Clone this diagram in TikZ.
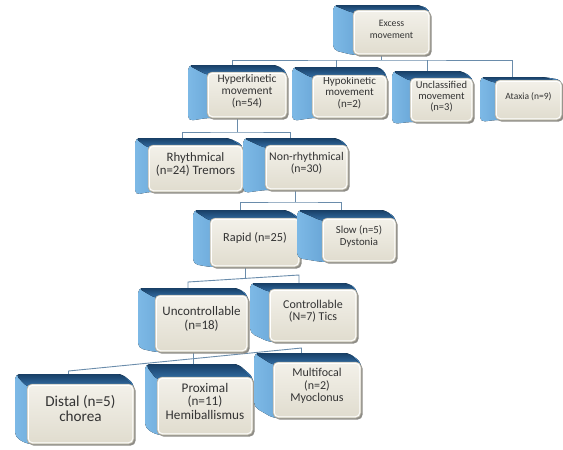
\documentclass[tikz,border=0pt]{standalone}
\usepackage{fontspec}
\setmainfont{Carlito}
\usetikzlibrary{calc,fit}
\definecolor{topdark}{HTML}{183F66}
\definecolor{topmid}{HTML}{3470A8}
\definecolor{sidelight}{HTML}{7DB9E6}
\definecolor{sidemid}{HTML}{3473AE}
\definecolor{boxtop}{HTML}{F3F1EA}
\definecolor{boxbot}{HTML}{E0DCCE}
\definecolor{boxline}{HTML}{A8A59A}
\definecolor{connc}{HTML}{6A8CAB}
\definecolor{txtc}{HTML}{333333}
\definecolor{shadowc}{HTML}{8E8C86}
\pgfdeclarelayer{bg}
\pgfsetlayers{bg,main}
\tikzset{
  frontbox/.style={draw=boxline, line width=0.5pt, top color=boxtop, bottom color=boxbot,
    rounded corners=5pt, inner sep=0pt, text=txtc, align=center},
  sideface/.style={left color=sidelight, right color=sidemid, rounded corners=5pt},
  topface/.style={top color=topdark, bottom color=topmid, rounded corners=5pt},
  connector/.style={draw=connc, line width=0.9pt},
}
\newcommand\blk[8]{%
  \coordinate (#1-fnw) at #2;
  \coordinate (#1-fse) at #3;
  \coordinate (#1-bnw) at #4;
  \coordinate (#1-bse) at #5;
  \node[fit={#4 #5}, inner sep=0pt] (#1-b) {};
  \fill[sideface] (#1-bnw) -- (#1-bse |- #1-bnw) -- (#1-fse |- #1-fnw) -- (#1-fse)
     -- (#1-fnw |- #1-fse) -- (#1-bnw |- #1-bse) -- cycle;
  \fill[topface] (#1-bnw) -- (#1-bse |- #1-bnw) -- ($(#1-fse |- #1-fnw)+(0,3)$)
     -- ($(#1-fnw)+(0,3)$) -- cycle;
  \fill[shadowc, rounded corners=5pt] ($#2+(1.6,1.6)$) rectangle ($#3+(1.6,1.6)$);
  \node[frontbox, fit={#2 #3}, font=\fontsize{#6}{#7}\selectfont] (#1) {#8};
  \draw[white, line width=0.8pt, rounded corners=4pt] ($(#1.north west)+(1.6,1.6)$) rectangle ($(#1.south east)+(-1.6,-1.6)$);
}
\begin{document}
\begin{tikzpicture}[x=1pt,y=-1pt]
\useasboundingbox (0,0) rectangle (563,450);
\begin{pgfonlayer}{bg}
\fill[white] (0,0) rectangle (563,450);
\end{pgfonlayer}

\blk{excess}{(353,10)}{(430,55)}{(333,5)}{(420,50)}{9.8}{11.5}{Excess\\movement}
\blk{hyper}{(207,72)}{(287,118)}{(188,65)}{(277,121)}{11.5}{12}{Hyperkinetic\\movement\\(n=54)}
\blk{hypo}{(312,75)}{(387,118)}{(292,67)}{(380,121)}{11}{11.5}{Hypokinetic\\movement\\(n=2)}
\blk{uncl}{(410,78)}{(473,122)}{(392,71)}{(462,124)}{10.5}{11}{Unclassified\\movement\\(n=3)}
\blk{ataxia}{(495,80)}{(562,120)}{(480,77)}{(544,122)}{9.5}{10}{Ataxia (n=9)}
\blk{rhyth}{(148,145)}{(243,192)}{(135,138)}{(229,195)}{12.8}{13}{Rhythmical\\(n=24) Tremors}
\blk{nonrh}{(265,145)}{(348,190)}{(243,138)}{(337,193)}{11.8}{12.5}{Non-rhythmical\\(n=30)}
\blk{rapid}{(210,218)}{(300,267)}{(193,210)}{(287,264)}{12.3}{13}{Rapid (n=25)}
\blk{slow}{(322,218)}{(396,262)}{(297,210)}{(385,258)}{10.8}{12}{Slow (n=5)\\Dystonia}
\blk{unc}{(155,295)}{(248,352)}{(138,288)}{(238,348)}{13}{13.5}{Uncontrollable\\(n=18)}
\blk{contr}{(269,289)}{(357,342)}{(250,283)}{(348,333)}{12}{12.5}{Controllable\\(N=7) Tics}
\blk{distal}{(27,384)}{(134,444)}{(15,374)}{(122,437)}{15.2}{15.5}{Distal (n=5)\\chorea}
\blk{prox}{(157,377)}{(253,435)}{(145,364)}{(238,428)}{13.2}{13.5}{Proximal\\(n=11)\\Hemiballismus}
\blk{multi}{(273,362)}{(361,418)}{(254,353)}{(349,407)}{12}{12.5}{Multifocal\\(n=2)\\Myoclonus}

\begin{pgfonlayer}{bg}
% level 1 -> 2
\coordinate (bus1) at (381.5,60);
\draw[connector] ($(excess-b.north |- excess.south)+(5,0)$) -- (bus1);
\draw[connector] (hyper-b.north) |- (bus1) -| (ataxia-b.north);
\draw[connector] (hypo-b.north) -- (hypo-b.north |- bus1);
\draw[connector] (uncl-b.north) -- (uncl-b.north |- bus1);
% level 2 -> 3
\coordinate (bus2) at (237.5,132);
\draw[connector] ($(hyper-b.north |- hyper.south)+(5,0)$) -- (bus2);
\draw[connector] (rhyth-b.north) |- (bus2) -| (nonrh-b.north);
% level 3 -> 4
\coordinate (bus3) at (295,202);
\draw[connector] ($(nonrh-b.north |- nonrh.south)+(5,0)$) -- (bus3);
\draw[connector] (rapid-b.north) |- (bus3) -| (slow-b.north);
% level 4 -> 5
\coordinate (bl4) at (188,282);
\coordinate (br4) at (299,275);
\coordinate (m4) at (245,278.4);
\draw[connector] ($(rapid-b.north |- rapid.south)+(5,0)$) -- (m4);
\draw[connector] (unc-b.north) -- (bl4) -- (br4) -- (contr-b.north);
% level 5 -> 6
\coordinate (bl5) at (68.5,371);
\coordinate (br5) at (301.5,348);
\coordinate (ub) at ($(unc-b.north |- unc.south)+(5,0)$);
\draw[connector] (ub) -- (ub |- prox-b.north);
\draw[connector] (distal-b.north) -- (bl5) -- (br5) -- (multi-b.north);
\end{pgfonlayer}
\end{tikzpicture}
\end{document}
